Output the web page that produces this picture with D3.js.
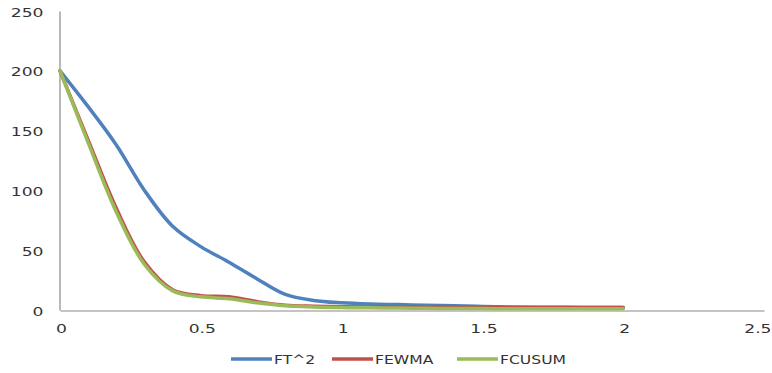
<!DOCTYPE html>
<html><head><meta charset="utf-8">
<script src="https://cdn.jsdelivr.net/npm/d3@7"></script>
<style>body{margin:0;background:#fff}svg{display:block}</style>
</head><body><svg id="c" width="772" height="373"></svg>
<script>
const xValues = [0,0.1,0.2,0.3,0.4,0.5,0.6,0.7,0.8,0.9,1.0,1.1,1.2,1.3,1.4,1.5,1.6,1.7,1.8,1.9,2.0];
const ft2    = [200,170,138,100,70,53,40,26,13,8,6,5,4.5,4,3.5,3,2.6,2.4,2.2,2.1,2];
const fewma  = [200,142,85,40,17,12,11,7,4,3.2,2.8,2.6,2.5,2.4,2.3,2.2,2.1,2.1,2,2,2];
const fcusum = [200,140,82,38,16,11,9.5,6,3.5,2.5,2,1.8,1.6,1.4,1.3,1.2,1.1,1.1,1,1,1];
const seriesNames = ["FT^2","FEWMA","FCUSUM"];
const seriesColors = ["#4F81BD","#C0504D","#9BBB59"];
const xTicks = [0,0.5,1,1.5,2,2.5];
const yTicks = [0,50,100,150,200,250];

const svg = d3.select("#c");
const x = d3.scaleLinear().domain([0,2.5]).range([60,764]);
const y = d3.scaleLinear().domain([0,250]).range([310,11]);
const font = "DejaVu Sans, Verdana, sans-serif";
const textCol = "#333";
const SX = 1.32;

function stretchedText(g, tx, ty, str, anchor, size, sx){
  g.append("text").attr("transform",`translate(${tx},${ty}) scale(${sx},1)`)
   .attr("text-anchor",anchor).attr("font-family",font).attr("font-size",size)
   .attr("fill",textCol).text(str);
}

// axes
const yAxis = d3.axisLeft(y).tickValues(yTicks).tickSize(0).tickPadding(0).tickFormat(d3.format("d"));
const gy = svg.append("g").attr("transform","translate(59.5,0)").call(yAxis);
gy.select(".domain").attr("stroke","#8a8a8a").attr("stroke-width",1.2);
gy.selectAll(".tick text").remove();
gy.selectAll(".tick").each(function(d){
  stretchedText(d3.select(this), -16, 5, String(d), "end", 13, SX);
});

const xAxis = d3.axisBottom(x).tickValues(xTicks).tickSize(0).tickPadding(0);
const gx = svg.append("g").attr("transform","translate(0,310.5)").call(xAxis);
gx.select(".domain").attr("stroke","#8a8a8a").attr("stroke-width",1.2);
gx.selectAll(".tick text").remove();
gx.selectAll(".tick").each(function(d){
  const isLast = d === xTicks[xTicks.length-1];
  stretchedText(d3.select(this), isLast ? 7 : 1, 22, String(d), isLast ? "end" : "middle", 13, SX);
});

// lines
const allSeries = [ft2, fewma, fcusum];
const line = d3.line().x((d,i)=>x(xValues[i])).y(d=>y(d)).curve(d3.curveCatmullRom.alpha(0.5));
allSeries.forEach((s,k)=>{
  svg.append("path").datum(s).attr("d",line).attr("fill","none")
    .attr("stroke",seriesColors[k]).attr("stroke-width",3.5)
    .attr("stroke-linejoin","round").attr("stroke-linecap","round");
});

// legend
const legendX = [231,332,457];
seriesNames.forEach((n,k)=>{
  const g = svg.append("g").attr("transform",`translate(${legendX[k]},359)`);
  g.append("line").attr("x1",0).attr("x2",41).attr("y1",0).attr("y2",0)
    .attr("stroke",seriesColors[k]).attr("stroke-width",3.5);
  stretchedText(g, 43, 4.5, n, "start", 12, 1.3);
});
</script></body></html>
